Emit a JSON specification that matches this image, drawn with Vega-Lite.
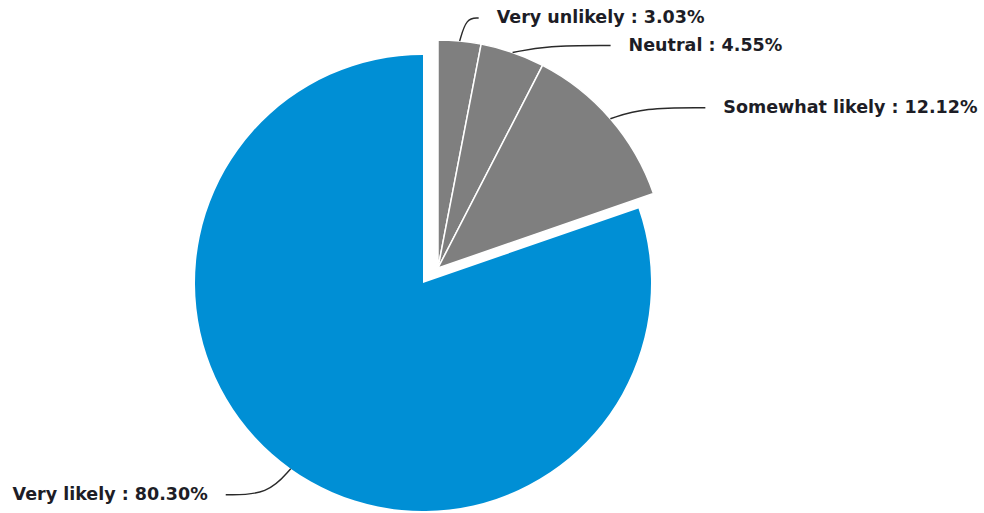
{
  "$schema": "https://vega.github.io/schema/vega-lite/v6.json",
  "width": 846,
  "height": 456,
  "autosize": {"type": "none"},
  "padding": {"left": 0, "top": 55, "right": 138, "bottom": 2},
  "background": "white",
  "config": {"view": {"stroke": null}},
  "data": {
    "values": [
      {"category": "Very unlikely", "pct": 3.03, "order": 1},
      {"category": "Neutral", "pct": 4.55, "order": 2},
      {"category": "Somewhat likely", "pct": 12.12, "order": 3},
      {"category": "Very likely", "pct": 80.30, "order": 4}
    ]
  },
  "transform": [
    {"stack": "pct", "groupby": [], "sort": [{"field": "order", "order": "ascending"}], "as": ["s0", "s1"]},
    {"calculate": "(datum.s0 + datum.s1) / 2", "as": "mid"},
    {"calculate": "datum.mid / 100 * 2 * PI", "as": "ang"},
    {"calculate": "datum.category === 'Very likely' ? 0 : 15", "as": "ox"},
    {"calculate": "datum.category === 'Very likely' ? 0 : -15", "as": "oy"},
    {"calculate": "datum.ox + 228 * sin(datum.ang)", "as": "ex"},
    {"calculate": "datum.oy - 228 * cos(datum.ang)", "as": "ey"},
    {"calculate": "datum.category === 'Very unlikely' ? 37 : datum.category === 'Neutral' ? 116 : datum.category === 'Somewhat likely' ? 113 : -83", "as": "ldx"},
    {"calculate": "datum.category === 'Very unlikely' ? -23 : datum.category === 'Neutral' ? -7 : datum.category === 'Somewhat likely' ? -11 : 26", "as": "ldy"},
    {"calculate": "datum.ex + datum.ldx", "as": "lx"},
    {"calculate": "datum.ey + datum.ldy", "as": "ly"},
    {"calculate": "datum.lx - (datum.ldx > 0 ? 18 : -18)", "as": "endx"},
    {"calculate": "datum.category + ' : ' + format(datum.pct, '.2f') + '%'", "as": "label"}
  ],
  "layer": [
    {
      "transform": [{"filter": "datum.category === 'Very likely'"}],
      "mark": {"type": "arc", "radius": 228, "fill": "#008fd5"},
      "encoding": {
        "theta": {"field": "s0", "type": "quantitative", "stack": null, "scale": {"domain": [0, 100], "range": [0, 6.283185307179586]}},
        "theta2": {"field": "s1"}
      }
    },
    {
      "transform": [{"filter": "datum.category !== 'Very likely'"}],
      "mark": {"type": "arc", "radius": 228, "fill": "#7f7f7f", "stroke": "white", "strokeWidth": 1.5, "xOffset": 15, "yOffset": -15},
      "encoding": {
        "theta": {"field": "s0", "type": "quantitative", "stack": null, "scale": {"domain": [0, 100], "range": [0, 6.283185307179586]}},
        "theta2": {"field": "s1"}
      }
    },
    {
      "transform": [
        {"fold": ["ex", "lx", "ly"], "as": ["pt", "dummy"]},
        {"calculate": "datum.pt === 'ex' ? 0 : datum.pt === 'lx' ? 1 : 2", "as": "k"},
        {"calculate": "datum.k === 0 ? datum.ex : datum.k === 1 ? datum.ex + 0.35 * (datum.endx - datum.ex) : datum.endx", "as": "px"},
        {"calculate": "datum.k === 0 ? datum.ey : datum.ly", "as": "py"}
      ],
      "mark": {"type": "line", "interpolate": "basis", "stroke": "#2a2a2a", "strokeWidth": 1.4, "clip": false},
      "encoding": {
        "x": {"field": "px", "type": "quantitative", "scale": {"domain": [-423, 423], "nice": false, "zero": false}, "axis": null},
        "y": {"field": "py", "type": "quantitative", "scale": {"domain": [-228, 228], "nice": false, "zero": false, "reverse": true}, "axis": null},
        "detail": {"field": "category"},
        "order": {"field": "k"}
      }
    },
    {
      "transform": [{"filter": "datum.category !== 'Very likely'"}],
      "mark": {"type": "text", "align": "left", "baseline": "middle", "font": "DejaVu Sans", "fontWeight": "bold", "fontSize": 17.5, "fill": "#1d1d26", "clip": false},
      "encoding": {
        "x": {"field": "lx", "type": "quantitative", "scale": {"domain": [-423, 423], "nice": false, "zero": false}, "axis": null},
        "y": {"field": "ly", "type": "quantitative", "scale": {"domain": [-228, 228], "nice": false, "zero": false, "reverse": true}, "axis": null},
        "text": {"field": "label"}
      }
    },
    {
      "transform": [{"filter": "datum.category === 'Very likely'"}],
      "mark": {"type": "text", "align": "right", "baseline": "middle", "font": "DejaVu Sans", "fontWeight": "bold", "fontSize": 17.5, "fill": "#1d1d26", "clip": false},
      "encoding": {
        "x": {"field": "lx", "type": "quantitative", "scale": {"domain": [-423, 423], "nice": false, "zero": false}, "axis": null},
        "y": {"field": "ly", "type": "quantitative", "scale": {"domain": [-228, 228], "nice": false, "zero": false, "reverse": true}, "axis": null},
        "text": {"field": "label"}
      }
    }
  ]
}
